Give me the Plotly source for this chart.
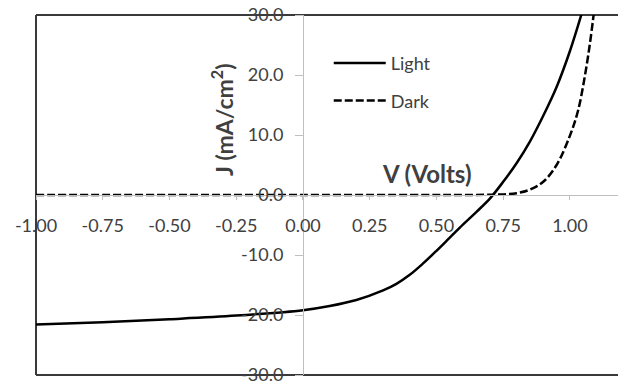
import plotly.graph_objects as go

# Illuminated J-V curve of the cell
light_v = [-1.00, -0.75, -0.50, -0.25, 0.00, 0.10, 0.20, 0.30, 0.35, 0.40, 0.45, 0.50,
           0.55, 0.60, 0.65, 0.70, 0.75, 0.80, 0.85, 0.90, 0.95, 1.00, 1.045]
light_j = [-21.6, -21.2, -20.7, -20.1, -19.2, -18.5, -17.5, -15.9, -14.8, -13.3, -11.4, -9.3,
           -7.1, -4.9, -2.8, -0.6, 2.2, 5.3, 8.9, 13.2, 18.0, 24.0, 30.4]

# Dark J-V curve
dark_v = [-1.00, -0.50, 0.00, 0.50, 0.60, 0.70, 0.75, 0.80, 0.85, 0.90, 0.95,
          1.00, 1.03, 1.055, 1.075, 1.09]
dark_j = [0.0, 0.0, 0.0, 0.0, 0.0, 0.05, 0.1, 0.3, 0.9, 2.2, 5.0,
          9.9, 14.0, 19.6, 25.3, 30.5]

x_ticks = [-1.00, -0.75, -0.50, -0.25, 0.00, 0.25, 0.50, 0.75, 1.00]
x_labels = ["-1.00", "-0.75", "-0.50", "-0.25", "0.00", "0.25", "0.50", "0.75", "1.00"]
y_ticks = [-30, -20, -10, 0, 10, 20, 30]
y_labels = ["-30.0", "-20.0", "-10.0", "0.0", "10.0", "20.0", "30.0"]

X_RANGE = [-1.0, 1.18]
Y_RANGE = [-30, 30]

FONT = "Lato"
TEXT = "#404040"
AXIS = "#bfbfbf"

fig = go.Figure()
fig.add_trace(go.Scatter(
    x=light_v, y=light_j, mode="lines", name="Light", legendgroup="light",
    line=dict(color="black", width=2.5), line_shape="spline",
))
fig.add_trace(go.Scatter(
    x=dark_v, y=dark_j, mode="lines", name="Dark", legendgroup="dark",
    line=dict(color="black", width=2.5, dash="8px,3px"), line_shape="spline",
))

# y axis crosses the x axis at V = 0
y_pos = (0 - X_RANGE[0]) / (X_RANGE[1] - X_RANGE[0])

fig.update_layout(
    width=618, height=385,
    margin=dict(l=36, r=0, t=15, b=7),
    paper_bgcolor="white", plot_bgcolor="white",
    font=dict(family=FONT, color=TEXT, size=18),
    showlegend=True,
    legend=dict(
        x=0.503, y=0.917, xanchor="left", yanchor="top",
        bgcolor="rgba(0,0,0,0)", font=dict(size=18, color=TEXT),
        itemwidth=52, tracegroupgap=11, traceorder="grouped",
    ),
    xaxis=dict(
        range=X_RANGE, tickvals=x_ticks, ticktext=x_labels,
        showgrid=False, zeroline=False,
        anchor="free", position=0.5,
        showline=True, linecolor=AXIS, linewidth=1,
        ticks="outside", ticklen=4, tickcolor=AXIS,
        ticklabelstandoff=10, ticklabeloverflow="allow",
        tickfont=dict(size=18, color=TEXT),
    ),
    yaxis=dict(
        range=Y_RANGE, tickvals=y_ticks, ticktext=y_labels,
        showgrid=False, zeroline=False,
        anchor="free", position=y_pos,
        showline=True, linecolor=AXIS, linewidth=1,
        ticks="outside", ticklen=8, tickcolor=AXIS,
        ticklabelstandoff=8, ticklabeloverflow="allow",
        tickfont=dict(size=18, color=TEXT),
    ),
    annotations=[
        dict(text="<b>V (Volts)</b>", x=0.464, y=3.6, xref="x", yref="y",
             showarrow=False, font=dict(size=24, color=TEXT)),
        dict(text="<b>J (mA/cm<sup>2</sup>)</b>", x=-0.303, y=12.5, xref="x", yref="y",
             textangle=-90, showarrow=False, font=dict(size=23, color=TEXT)),
    ],
    shapes=[
        # plot-area frame: left, top and bottom edges
        dict(type="line", xref="paper", yref="paper", x0=0, x1=0, y0=0, y1=1,
             line=dict(color="#3a3a3a", width=2), layer="below"),
        dict(type="line", xref="paper", yref="paper", x0=0, x1=1.05, y0=1, y1=1,
             line=dict(color="#3a3a3a", width=2), layer="below"),
        dict(type="line", xref="paper", yref="paper", x0=0, x1=1.05, y0=0, y1=0,
             line=dict(color="#3a3a3a", width=2), layer="below"),
    ],
)

fig.write_html("out.html")
